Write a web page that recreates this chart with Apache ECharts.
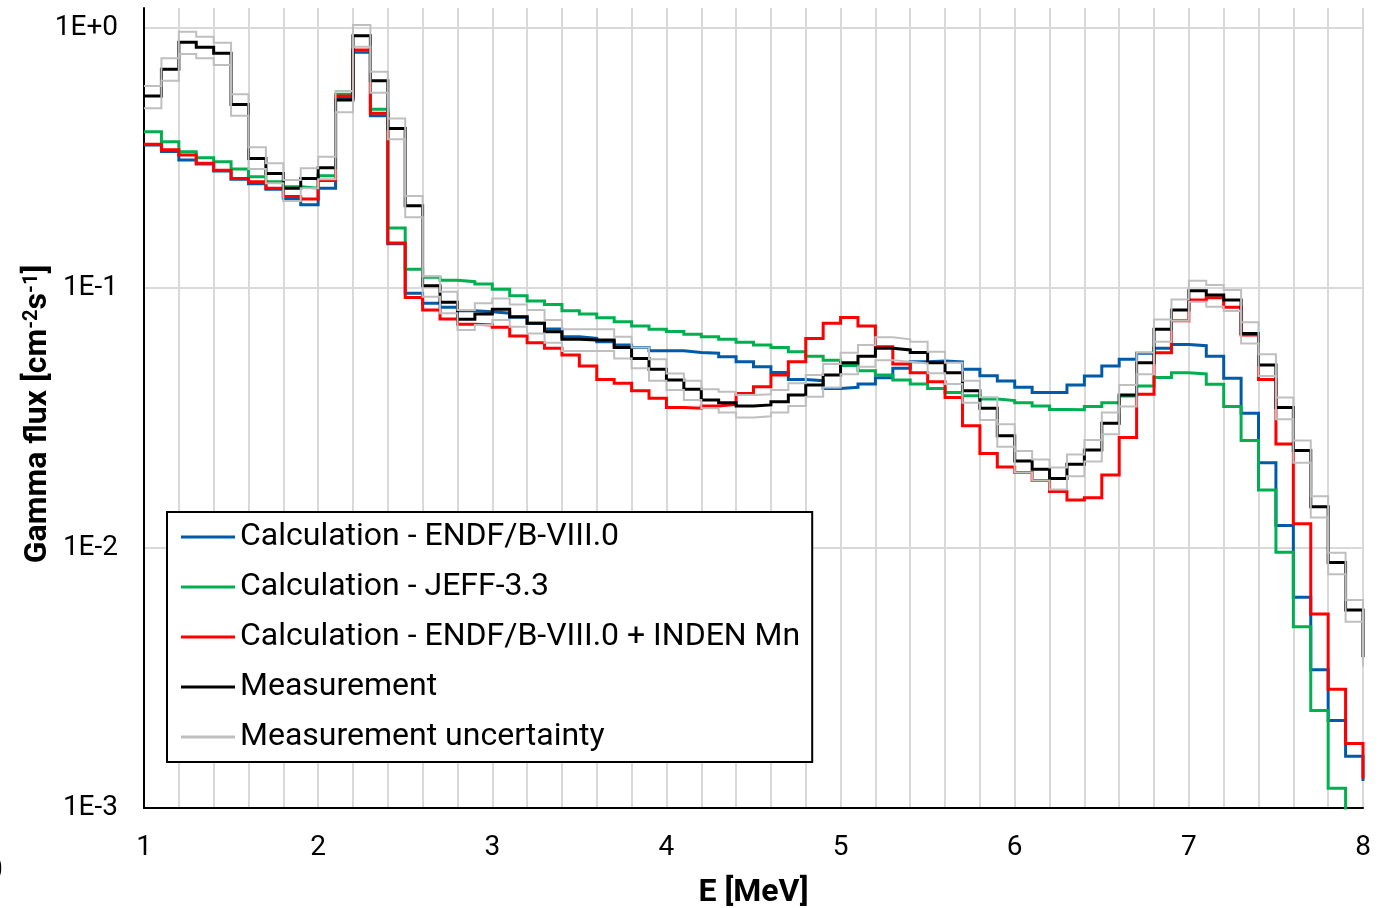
<!DOCTYPE html>
<html>
<head>
<meta charset="utf-8">
<script src="https://cdn.jsdelivr.net/npm/echarts@6/dist/echarts.min.js"></script>
<style>
html,body{margin:0;padding:0;background:#ffffff;}
#chart{width:1383px;height:908px;}
</style>
</head>
<body>
<div id="chart"></div>
<script>
// Bin edges (MeV); each value holds from its edge to the next edge. Last entry = first bin beyond 8 MeV.
const binEdges = [1.0,1.1,1.2,1.3,1.4,1.5,1.6,1.7,1.8,1.9,
  2.0,2.1,2.2,2.3,2.4,2.5,2.6,2.7,2.8,2.9,
  3.0,3.1,3.2,3.3,3.4,3.5,3.6,3.7,3.8,3.9,
  4.0,4.1,4.2,4.3,4.4,4.5,4.6,4.7,4.8,4.9,
  5.0,5.1,5.2,5.3,5.4,5.5,5.6,5.7,5.8,5.9,
  6.0,6.1,6.2,6.3,6.4,6.5,6.6,6.7,6.8,6.9,
  7.0,7.1,7.2,7.3,7.4,7.5,7.6,7.7,7.8,7.9,
  8.0];

const calcEndf = [0.355,0.335,0.311,0.300,0.282,0.262,0.252,0.240,0.221,0.209,
  0.242,0.539,0.806,0.460,0.148,0.0954,0.0873,0.0843,0.0818,0.081,
  0.080,0.0772,0.0732,0.0696,0.065,0.064,0.0621,0.0604,0.0591,0.0574,
  0.0574,0.0565,0.0561,0.0544,0.0521,0.0498,0.0473,0.0445,0.044,0.0411,
  0.0415,0.0427,0.0452,0.0491,0.0521,0.0524,0.052,0.0487,0.046,0.0439,
  0.0415,0.0396,0.0396,0.0424,0.0459,0.0501,0.0532,0.0561,0.0586,0.0607,
  0.060,0.0547,0.045,0.033,0.0213,0.0122,0.00646,0.0034,0.00217,0.00158,
  0.00127];

const calcJeff = [0.399,0.365,0.334,0.317,0.306,0.287,0.268,0.256,0.245,0.242,
  0.270,0.556,0.82,0.487,0.170,0.118,0.110,0.107,0.1057,0.1036,
  0.0989,0.0934,0.0891,0.0865,0.0818,0.0794,0.0769,0.0742,0.0714,0.0694,
  0.068,0.0664,0.065,0.0635,0.0618,0.0604,0.059,0.0569,0.0547,0.0528,
  0.0503,0.0481,0.0463,0.0443,0.0427,0.0411,0.0396,0.0385,0.0374,0.0369,
  0.0362,0.0352,0.0341,0.034,0.035,0.0362,0.0384,0.042,0.0453,0.0472,
  0.0467,0.0426,0.035,0.0259,0.0167,0.00963,0.00498,0.00237,0.00119,0.0007,
  0.0005];

const calcInden = [0.357,0.340,0.325,0.302,0.284,0.264,0.256,0.242,0.225,0.220,
  0.259,0.548,0.823,0.470,0.149,0.092,0.0823,0.076,0.0725,0.0721,
  0.0706,0.0654,0.0616,0.0586,0.0553,0.0501,0.0445,0.043,0.0403,0.0377,
  0.0347,0.0345,0.0352,0.0357,0.0393,0.0417,0.0463,0.0521,0.064,0.0732,
  0.0771,0.0714,0.0595,0.051,0.0472,0.0436,0.0379,0.0295,0.0231,0.0205,
  0.0195,0.0182,0.0165,0.0153,0.0156,0.0191,0.0266,0.039,0.0564,0.0748,
  0.0899,0.0918,0.0843,0.0659,0.0445,0.0251,0.0124,0.00557,0.00286,0.00177,
  0.0013];

const measured = [0.548,0.694,0.881,0.843,0.799,0.508,0.315,0.276,0.242,0.264,
  0.29,0.529,0.934,0.627,0.411,0.207,0.102,0.0881,0.0758,0.0794,
  0.0828,0.0776,0.0732,0.0679,0.0635,0.0631,0.0631,0.0591,0.0536,0.0487,
  0.0443,0.0408,0.0371,0.0362,0.0352,0.0355,0.0365,0.0388,0.0424,0.0463,
  0.0516,0.0547,0.0586,0.0578,0.0565,0.0516,0.0472,0.0403,0.0345,0.027,
  0.0216,0.0201,0.0185,0.021,0.0238,0.0302,0.0388,0.0516,0.0694,0.0823,
  0.0977,0.094,0.0899,0.0669,0.0506,0.0347,0.0237,0.0144,0.00879,0.00578,
  0.0038];

const measUpper = [0.598,0.765,0.968,0.926,0.878,0.556,0.348,0.302,0.260,0.289,
  0.320,0.573,1.027,0.679,0.449,0.226,0.111,0.0968,0.0823,0.0873,
  0.0912,0.0865,0.0823,0.0753,0.0694,0.0694,0.0694,0.065,0.059,0.0532,
  0.0469,0.044,0.0408,0.0399,0.0388,0.039,0.0405,0.043,0.0463,0.051,
  0.0564,0.0604,0.0646,0.0635,0.0622,0.0569,0.0516,0.044,0.038,0.0299,
  0.0236,0.0219,0.0204,0.0229,0.026,0.0332,0.0424,0.0565,0.0757,0.0904,
  0.1066,0.1027,0.0982,0.0738,0.0556,0.0379,0.0259,0.0158,0.00959,0.00631,
  0.0041];

const measLower = [0.491,0.627,0.794,0.765,0.721,0.460,0.287,0.253,0.216,0.242,
  0.262,0.474,0.848,0.564,0.373,0.187,0.0926,0.080,0.0689,0.0721,
  0.0753,0.071,0.0669,0.0616,0.0573,0.0573,0.0573,0.0536,0.0491,0.044,
  0.0405,0.0371,0.0345,0.0332,0.0318,0.0321,0.0332,0.0352,0.0382,0.0414,
  0.0466,0.0498,0.0528,0.0521,0.0513,0.047,0.0427,0.0362,0.0311,0.0245,
  0.0195,0.0182,0.0168,0.0189,0.0215,0.0274,0.035,0.0466,0.0621,0.0748,
  0.0886,0.0848,0.0816,0.0612,0.0459,0.0313,0.0213,0.0131,0.00792,0.00521,
  0.0035];

const xTicks = [1,2,3,4,5,6,7,8];
const yTicks = [0.001,0.01,0.1,1];

const seriesNames = ['Calculation - ENDF/B-VIII.0','Calculation - JEFF-3.3',
  'Calculation - ENDF/B-VIII.0 + INDEN Mn','Measurement','Measurement uncertainty'];

function pairs(vals){ return binEdges.map((e,i)=>[e, vals[i]]); }

const FONT = 'Roboto';
const chart = echarts.init(document.getElementById('chart'), null, {renderer:'canvas'});

function stepSeries(name, vals, color, width, z){
  return {
    name: name, type:'line', step:'end', data: pairs(vals),
    symbol:'none', showSymbol:false, clip:true, z: z,
    lineStyle:{color:color, width:width, join:'miter', cap:'butt'},
    itemStyle:{color:color},
    emphasis:{disabled:true}
  };
}

const option = {
  animation:false,
  backgroundColor:'#ffffff',
  grid:{left:144, right:20, top:8, bottom:100, containLabel:false, outerBoundsMode:'none'},
  legend:{
    orient:'vertical', left:167, top:512,
    data: seriesNames.map((n,i)=>({name:n, icon:'rect'})),
    itemWidth:54, itemHeight:3, itemGap:18,
    padding:[9,12,9,14],
    backgroundColor:'#ffffff', borderColor:'#000000', borderWidth:2, borderRadius:0,
    textStyle:{fontFamily:FONT, fontSize:32, color:'#000000'},
    selectedMode:false
  },
  xAxis:{
    type:'value', min:1, max:8, interval:0.2,
    axisLine:{show:true, onZero:false, lineStyle:{color:'#000000', width:2}},
    axisTick:{show:false},
    axisLabel:{fontFamily:FONT, fontSize:28, color:'#000000', margin:26,
      showMinLabel:true, showMaxLabel:true,
      formatter:function(v){
        const r = Math.round(v);
        return (Math.abs(v-r) < 1e-6 && xTicks.indexOf(r)>=0) ? String(r) : '';
      }},
    splitLine:{show:true, lineStyle:{color:'#D9D9D9', width:2}},
    name:'E [MeV]', nameLocation:'middle', nameGap:69, nameMoveOverlap:false,
    nameTextStyle:{fontFamily:FONT, fontSize:32, fontWeight:'bold', color:'#000000'}
  },
  yAxis:{
    type:'log', logBase:10, min:yTicks[0], max:1.194,
    axisLine:{show:true, lineStyle:{color:'#000000', width:2}},
    axisTick:{show:false},
    axisLabel:{fontFamily:FONT, fontSize:28, color:'#000000', margin:26,
      showMaxLabel:false,
      formatter:function(v){
        const e = Math.round(Math.log10(v));
        if (Math.abs(Math.log10(v)-e) > 1e-6) return '';
        return '1E' + (e>=0 ? '+'+e : String(e));
      }},
    splitLine:{show:true, showMaxLine:false, lineStyle:{color:'#D9D9D9', width:2}},
    name:'{t|Gamma flux [cm}{s|-2}{t|s}{s|-1}{t|]}',
    nameLocation:'middle', nameGap:90, nameRotate:90, nameMoveOverlap:false,
    nameTextStyle:{
      padding:[0,12,0,0],
      rich:{
        t:{fontFamily:FONT, fontSize:32, fontWeight:'bold', color:'#000000'},
        s:{fontFamily:FONT, fontSize:20, fontWeight:'bold', color:'#000000', verticalAlign:'top'}
      }
    }
  },
  graphic:[{type:'text', left:-13, top:857, style:{text:'0', font:'28px Roboto', fill:'#000000'}}],
  series:[
    stepSeries(seriesNames[0], calcEndf, '#005AAA', 3, 2),
    stepSeries(seriesNames[1], calcJeff, '#00B050', 3, 2),
    stepSeries(seriesNames[2], calcInden, '#FF0000', 3, 2),
    stepSeries(seriesNames[3], measured, '#000000', 3, 2),
    stepSeries(seriesNames[4], measUpper, '#BFBFBF', 2, 3),
    stepSeries(seriesNames[4], measLower, '#BFBFBF', 2, 3)
  ]
};
chart.setOption(option);
</script>
</body>
</html>
